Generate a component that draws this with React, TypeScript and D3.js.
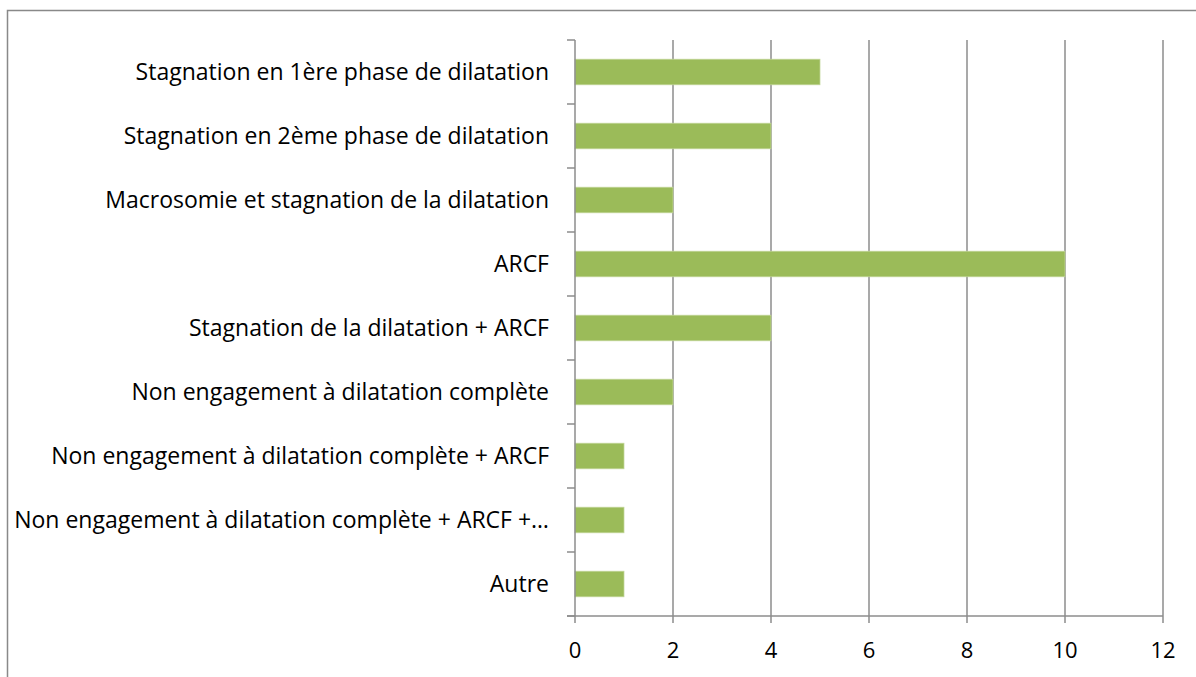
import { useEffect, useRef } from "react";
import * as d3 from "d3";

const categories = [
  "Stagnation en 1ère phase de dilatation",
  "Stagnation en 2ème phase de dilatation",
  "Macrosomie et stagnation de la dilatation",
  "ARCF",
  "Stagnation de la dilatation + ARCF",
  "Non engagement à dilatation complète",
  "Non engagement à dilatation complète + ARCF",
  "Non engagement à dilatation complète + ARCF +…",
  "Autre",
];
const values = [5, 4, 2, 10, 4, 2, 1, 1, 1];
const xTicks = [0, 2, 4, 6, 8, 10, 12];

export default function App() {
  const ref = useRef<SVGSVGElement>(null);

  useEffect(() => {
    const width = 1196;
    const height = 677;
    const margin = { top: 40, right: 33, bottom: 61, left: 575 };
    const font = "'Open Sans', sans-serif";

    const svg = d3.select(ref.current);
    svg.selectAll("*").remove();

    // outer chart border (runs off the right and bottom edge)
    svg.append("path")
      .attr("d", `M7.5,${height + 2}V10.5H${width + 2}`)
      .attr("fill", "none")
      .attr("stroke", "#898989")
      .attr("stroke-width", 1.5);

    const x = d3.scaleLinear()
      .domain([0, 12])
      .range([margin.left, width - margin.right]);

    const y = d3.scaleBand()
      .domain(categories)
      .range([margin.top, height - margin.bottom])
      .paddingInner(0.6)
      .paddingOuter(0.3);

    const yEdges = d3.scaleLinear()
      .domain([0, categories.length])
      .range([margin.top, height - margin.bottom]);

    // gridlines
    svg.append("g")
      .selectAll("line")
      .data(xTicks.slice(1))
      .join("line")
      .attr("x1", d => x(d))
      .attr("x2", d => x(d))
      .attr("y1", margin.top)
      .attr("y2", height - margin.bottom)
      .attr("stroke", "#8c8c8c")
      .attr("stroke-width", 1.5);

    // bars
    svg.append("g")
      .selectAll("rect")
      .data(values)
      .join("rect")
      .attr("x", x(0))
      .attr("y", (d, i) => y(categories[i])!)
      .attr("width", d => x(d) - x(0))
      .attr("height", y.bandwidth())
      .attr("fill", "#9bbb59")
      .attr("stroke", "#c3d69b")
      .attr("stroke-width", 0.75);

    // y axis line + ticks
    const yAxis = svg.append("g").attr("stroke", "#8c8c8c").attr("stroke-width", 1.5);
    yAxis.append("line")
      .attr("x1", x(0)).attr("x2", x(0))
      .attr("y1", margin.top).attr("y2", height - margin.bottom);
    yAxis.selectAll(".tk")
      .data(d3.range(categories.length + 1))
      .join("line")
      .attr("class", "tk")
      .attr("x1", x(0) - 8).attr("x2", x(0))
      .attr("y1", d => yEdges(d)).attr("y2", d => yEdges(d));

    // x axis line + ticks
    const xAxis = svg.append("g").attr("stroke", "#8c8c8c").attr("stroke-width", 1.5);
    xAxis.append("line")
      .attr("x1", x(0) - 8).attr("x2", x(12))
      .attr("y1", height - margin.bottom).attr("y2", height - margin.bottom);
    xAxis.selectAll(".tk")
      .data(xTicks)
      .join("line")
      .attr("class", "tk")
      .attr("x1", d => x(d)).attr("x2", d => x(d))
      .attr("y1", height - margin.bottom).attr("y2", height - margin.bottom + 7);

    // x tick labels
    svg.append("g")
      .selectAll("text")
      .data(xTicks)
      .join("text")
      .attr("x", d => x(d))
      .attr("y", height - margin.bottom + 42)
      .attr("text-anchor", "middle")
      .attr("font-family", font)
      .attr("font-size", 22)
      .attr("fill", "#000")
      .text(d => d);

    // category labels
    svg.append("g")
      .selectAll("text")
      .data(categories)
      .join("text")
      .attr("x", x(0) - 26)
      .attr("y", d => y(d)! + y.bandwidth() / 2)
      .attr("dy", "0.35em")
      .attr("text-anchor", "end")
      .attr("font-family", font)
      .attr("font-size", 23)
      .attr("fill", "#000")
      .text(d => d);
  }, []);

  return (
    <div style={{ position: "absolute", left: 0, top: 0 }}>
      <svg ref={ref} width={1196} height={677} style={{ display: "block", background: "#fff" }} />
    </div>
  );
}
